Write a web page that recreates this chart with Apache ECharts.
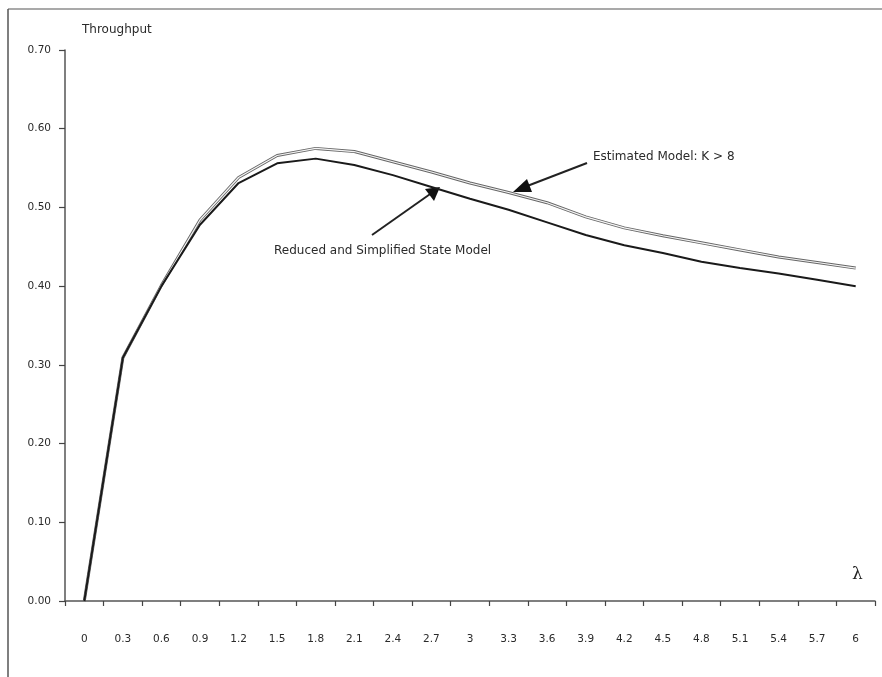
<!DOCTYPE html>
<html>
<head>
<meta charset="utf-8">
<script src="https://cdn.jsdelivr.net/npm/echarts@6/dist/echarts.min.js"></script>
<style>
  html, body { margin: 0; padding: 0; background: #fff; }
  #chart { width: 882px; height: 677px; }
</style>
</head>
<body>
<div id="chart"></div>
<script>
// Arrival rate λ categories
const lambdaLabels = ['0', '0.3', '0.6', '0.9', '1.2', '1.5', '1.8', '2.1', '2.4', '2.7', '3',
  '3.3', '3.6', '3.9', '4.2', '4.5', '4.8', '5.1', '5.4', '5.7', '6'];

// Throughput of the reduced and simplified state model
const reducedModel = [0, 0.309, 0.400, 0.478, 0.531, 0.556, 0.562, 0.554, 0.541, 0.526, 0.511,
  0.497, 0.481, 0.465, 0.452, 0.442, 0.431, 0.423, 0.416, 0.408, 0.400];

// Throughput of the estimated model, K > 8
const estimatedModel = [0, 0.309, 0.401, 0.484, 0.538, 0.566, 0.575, 0.571, 0.558, 0.545, 0.531,
  0.519, 0.506, 0.488, 0.474, 0.464, 0.455, 0.446, 0.437, 0.430, 0.423];

const yTicks = { min: 0, max: 0.7, interval: 0.1 };

const labelFont = { fontFamily: 'DejaVu Sans', fontSize: 10.5, color: '#2a2a2a' };
const noteFont = 'DejaVu Sans';

const chart = echarts.init(document.getElementById('chart'), null, { renderer: 'canvas' });

chart.setOption({
  backgroundColor: '#fff',
  animation: false,
  grid: { left: 65, right: 7, top: 50, bottom: 76 },
  xAxis: {
    type: 'category',
    data: lambdaLabels,
    boundaryGap: true,
    axisLine: { lineStyle: { color: '#555', width: 1.5 } },
    axisTick: { show: true, length: 5, lineStyle: { color: '#444', width: 1.2 } },
    axisLabel: Object.assign({ margin: 33, interval: 0 }, labelFont),
    splitLine: { show: false }
  },
  yAxis: {
    type: 'value',
    min: yTicks.min,
    max: yTicks.max,
    interval: yTicks.interval,
    axisLine: { show: true, lineStyle: { color: '#555', width: 1.5 } },
    axisTick: { show: true, length: 6, lineStyle: { color: '#444', width: 1.2 } },
    axisLabel: Object.assign({ margin: 14, formatter: v => v.toFixed(2) }, labelFont),
    splitLine: { show: false }
  },
  series: [
    {
      name: 'Estimated Model: K > 8',
      type: 'line',
      data: estimatedModel,
      symbol: 'none',
      lineStyle: { color: '#666', width: 3 },
      z: 2
    },
    {
      name: 'Estimated Model: K > 8 (inner)',
      type: 'line',
      data: estimatedModel,
      symbol: 'none',
      lineStyle: { color: '#f4f4f4', width: 1.2 },
      z: 3
    },
    {
      name: 'Reduced and Simplified State Model',
      type: 'line',
      data: reducedModel,
      symbol: 'none',
      lineStyle: { color: '#1a1a1a', width: 2 },
      z: 4
    }
  ],
  graphic: [
    // page frame
    { type: 'line', shape: { x1: 8, y1: 9, x2: 882, y2: 9 }, style: { stroke: '#555', lineWidth: 1.2 } },
    { type: 'line', shape: { x1: 8, y1: 9, x2: 8, y2: 677 }, style: { stroke: '#555', lineWidth: 1.5 } },
    // axis titles
    { type: 'text', left: 82, top: 24, style: { text: 'Throughput', fontFamily: noteFont, fontSize: 12, fill: '#2a2a2a' } },
    { type: 'text', left: 852, top: 566, style: { text: 'λ', fontFamily: 'DejaVu Serif', fontSize: 17, fill: '#222' } },
    // annotation: estimated model
    { type: 'text', left: 593, top: 151, style: { text: 'Estimated Model: K > 8', fontFamily: noteFont, fontSize: 12, fill: '#2a2a2a' } },
    { type: 'line', shape: { x1: 587, y1: 163, x2: 522, y2: 188 }, style: { stroke: '#222', lineWidth: 2 } },
    { type: 'polygon', shape: { points: [[513, 192], [527, 179], [532, 192]] }, style: { fill: '#111' } },
    // annotation: reduced model
    { type: 'text', left: 274, top: 245, style: { text: 'Reduced and Simplified State Model', fontFamily: noteFont, fontSize: 12, fill: '#2a2a2a' } },
    { type: 'line', shape: { x1: 372, y1: 235, x2: 433, y2: 192 }, style: { stroke: '#222', lineWidth: 2 } },
    { type: 'polygon', shape: { points: [[440, 187], [425, 189], [434, 201]] }, style: { fill: '#111' } }
  ]
});
</script>
</body>
</html>
